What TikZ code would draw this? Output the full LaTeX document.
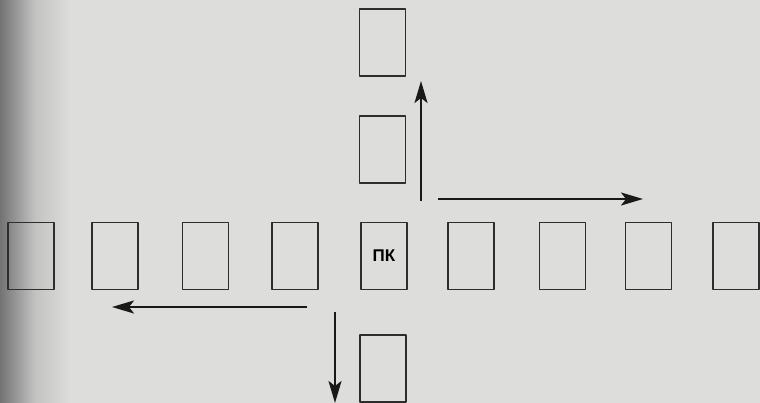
\documentclass[tikz,border=0pt]{standalone}
\usepackage{fontspec}
\setmainfont{Liberation Sans}
\usetikzlibrary{arrows.meta}
\definecolor{paper}{RGB}{221,221,220}
\definecolor{edge}{RGB}{115,115,115}
\definecolor{ink}{RGB}{45,45,45}
\tikzset{
  place/.style={draw=ink, line width=1.4pt, minimum width=46pt, minimum height=67pt, inner sep=0pt, font=\fontsize{17}{17}\selectfont\bfseries},
  move/.style={line width=2.2pt, draw=black!90, -{Stealth[length=22pt,width=13pt,inset=5pt]}}
}
\begin{document}
\begin{tikzpicture}[x=1pt, y=-1pt, line join=round]
	\useasboundingbox (0,0) rectangle (760,403);
	\fill[paper] (0,0) rectangle (760,403);
	\shade[left color=edge, right color=paper, middle color=paper!75!edge] (0,0) rectangle (70,403);
	% row of places
	\foreach \n/\x in {a/31,b/115,c/205.5,d/295,e/471,f/562.5,g/648.5,h/736}
		\node[place] (\n) at (\x,256) {};
	\node[place] (pk) at (384,256) {ПК};
	% column of places
	\node[place] (up1) at (382.5,42.5) {};
	\node[place] (up2) at (382.5,149.5) {};
	\node[place] (dn1) at (383,368.5) {};
	\path	(421,201) coordinate (N0)
		(421,81) coordinate (N1)
		(438,199) coordinate (E0)
		(643,199) coordinate (E1)
		(307,307) coordinate (W0)
		(112,307) coordinate (W1)
		(335,312) coordinate (S0)
		(335,403) coordinate (S1);
	\draw[move] (N0)--(N1);
	\draw[move] (E0)--(E1);
	\draw[move] (W0)--(W1);
	\draw[move] (S0)--(S1);
\end{tikzpicture}
\end{document}
